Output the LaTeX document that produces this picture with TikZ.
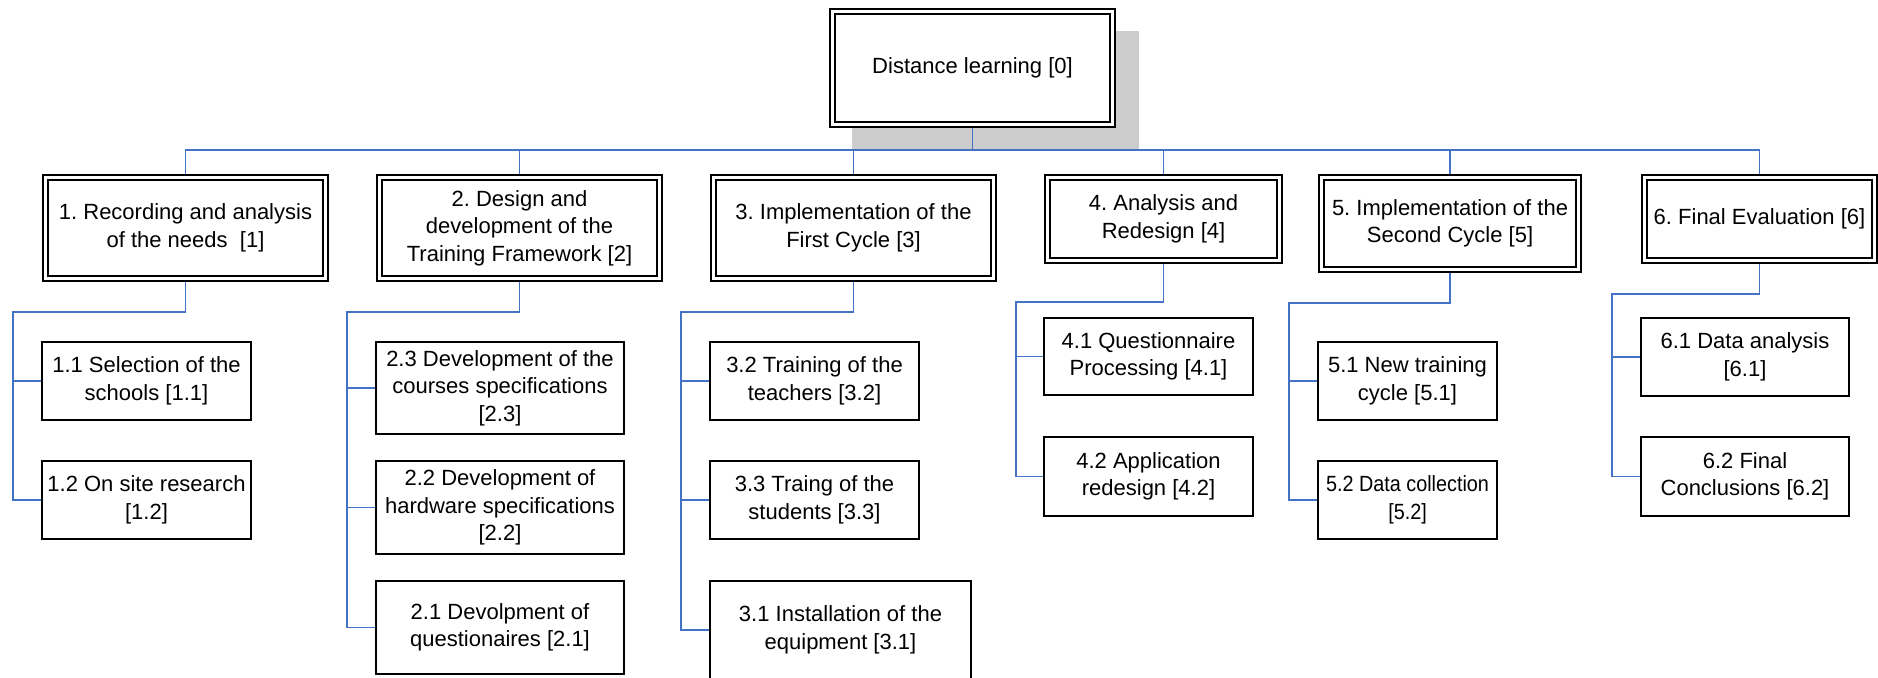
\documentclass[tikz,border=0pt]{standalone}
\usepackage{fontspec}
\setmainfont{Liberation Sans}
\frenchspacing
\usetikzlibrary{calc,backgrounds}

\definecolor{linkblue}{RGB}{68,114,196}
\definecolor{shadowgray}{RGB}{204,204,204}

\tikzset{
  phase/.style={draw,double,line width=1pt,double distance=1.5pt,outer sep=1.75pt,
    fill=white,align=center,inner sep=0pt,font=\fontsize{11}{13.75}\selectfont},
  task/.style={draw,line width=0.8pt,fill=white,align=center,inner sep=0pt,
    font=\fontsize{11}{13.75}\selectfont},
  link/.style={draw=linkblue,line width=0.9pt}
}

\begin{document}
\begin{tikzpicture}[x=0.5pt,y=-0.5pt]
  \useasboundingbox (0,0) rectangle (1878,678);

  \node (DL) at (972.5,68) [phase,minimum width=140pt,minimum height=56.5pt] {Distance learning [0]};
  \begin{pgfonlayer}{background}
    \fill[shadowgray] ($(DL.north west)+(23,23)$) rectangle ($(DL.south east)+(23,23)$);
  \end{pgfonlayer}

  \node (P1) at (185.5,228) [phase,minimum width=140pt,minimum height=50.5pt] {1. Recording and analysis\\of the needs~ [1]};
  \node (P2) at (519.5,228) [phase,minimum width=140pt,minimum height=50.5pt] {2. Design and\\development of the\\Training Framework [2]};
  \node (P3) at (853.5,228) [phase,minimum width=140pt,minimum height=50.5pt] {3. Implementation of the\\First Cycle [3]};
  \node (P4) at (1163.5,219) [phase,minimum width=116pt,minimum height=41.5pt] {4. Analysis and\\Redesign [4]};
  \node (P5) at (1450,223.5) [phase,minimum width=128.5pt,minimum height=46pt] {5. Implementation of the\\Second Cycle [5]};
  \node (P6) at (1759.5,219) [phase,minimum width=115pt,minimum height=41.5pt] {6. Final Evaluation [6]};

  \node (T11) at (146.5,381) [task,minimum width=104.5pt,minimum height=39pt] {1.1 Selection of the\\schools [1.1]};
  \node (T12) at (146.5,500) [task,minimum width=104.5pt,minimum height=39pt] {1.2 On site research\\{[1.2]}};

  \node (T23) at (500,388) [task,minimum width=124pt,minimum height=46pt] {2.3 Development of the\\courses specifications\\{[2.3]}};
  \node (T22) at (500,507.5) [task,minimum width=124pt,minimum height=46.5pt] {2.2 Development of\\hardware specifications\\{[2.2]}};
  \node (T21) at (500,627.5) [task,minimum width=124pt,minimum height=46.5pt] {2.1 Devolpment of\\questionaires [2.1]};

  \node (T32) at (814.5,381) [task,minimum width=104.5pt,minimum height=39pt] {3.2 Training of the\\teachers [3.2]};
  \node (T33) at (814.5,500) [task,minimum width=104.5pt,minimum height=39pt] {3.3 Traing of the\\students [3.3]};
  \node (T31) at (840.5,630) [task,minimum width=130.5pt,minimum height=49pt] {3.1 Installation of the\\equipment [3.1]};

  \node (T41) at (1148.5,356.5) [task,minimum width=104.5pt,minimum height=38.5pt] {4.1 Questionnaire\\Processing [4.1]};
  \node (T42) at (1148.5,476.5) [task,minimum width=104.5pt,minimum height=39.5pt] {4.2 Application\\redesign [4.2]};

  \node (T51) at (1407.5,381) [task,minimum width=89.5pt,minimum height=39pt] {5.1 New training\\cycle [5.1]};
  \node (T52) at (1407.5,500) [task,minimum width=89.5pt,minimum height=39pt,
    font=\fontsize{11}{13.75}\selectfont\addfontfeature{FakeStretch=0.9}] {5.2 Data collection\\{[5.2]}};

  \node (T61) at (1745,357) [task,minimum width=104pt,minimum height=39pt] {6.1 Data analysis\\{[6.1]}};
  \node (T62) at (1745,476.5) [task,minimum width=104pt,minimum height=39.5pt] {6.2 Final\\Conclusions [6.2]};

  % bus under the top box
  \draw[link] (DL.south) -- ++(0,22) coordinate (BUS);
  \foreach \i in {1,...,6}
    \draw[link] (BUS) -| (P\i.north);

  % branches to the tasks
  \coordinate (S1) at (13,312);
  \coordinate (S2) at (347,312);
  \coordinate (S3) at (681,312);
  \coordinate (S4) at (1016,302);
  \coordinate (S5) at (1289,303);
  \coordinate (S6) at (1612,294);

  \draw[link] (P1.south) |- (S1) |- (T12.west);
  \draw[link] (S1 |- T11.west) -- (T11.west);

  \draw[link] (P2.south) |- (S2) |- (T21.west);
  \draw[link] (S2 |- T23.west) -- (T23.west);
  \draw[link] (S2 |- T22.west) -- (T22.west);

  \draw[link] (P3.south) |- (S3) |- (T31.west);
  \draw[link] (S3 |- T32.west) -- (T32.west);
  \draw[link] (S3 |- T33.west) -- (T33.west);

  \draw[link] (P4.south) |- (S4) |- (T42.west);
  \draw[link] (S4 |- T41.west) -- (T41.west);

  \draw[link] (P5.south) |- (S5) |- (T52.west);
  \draw[link] (S5 |- T51.west) -- (T51.west);

  \draw[link] (P6.south) |- (S6) |- (T62.west);
  \draw[link] (S6 |- T61.west) -- (T61.west);

\end{tikzpicture}
\end{document}
